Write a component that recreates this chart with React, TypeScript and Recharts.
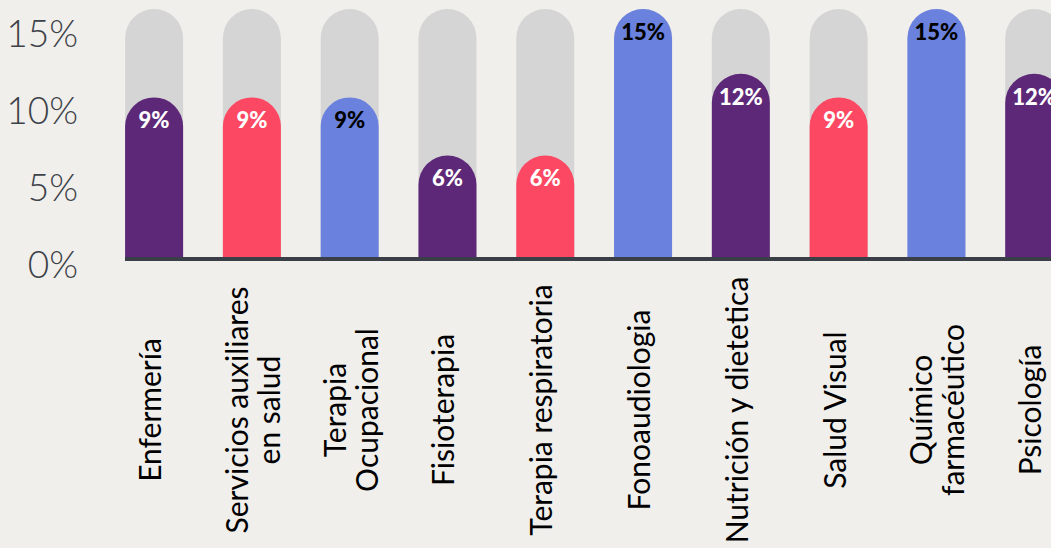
import { Bar, BarChart, Cell, LabelList, XAxis, YAxis } from 'recharts';

// categories, split into the lines shown under each bar
const categories = [
  ['Enfermería'],
  ['Servicios auxiliares', 'en salud'],
  ['Terapia', 'Ocupacional'],
  ['Fisioterapia'],
  ['Terapia respiratoria'],
  ['Fonoaudiologia'],
  ['Nutrición y dietetica'],
  ['Salud Visual'],
  ['Químico', 'farmacéutico'],
  ['Psicología'],
];
// printed labels on the bars
const shownPct = [9, 9, 9, 6, 6, 15, 12, 9, 15, 12];
// bar heights as read against the y axis
const barHeights = [10.36, 10.36, 10.36, 6.59, 6.59, 16.1, 11.9, 10.36, 16.1, 11.9];
const yTicks = [0, 5, 10, 15];

const PURPLE = '#5e2878';
const RED = '#fc4862';
const BLUE = '#6a82de';
const barColors = [PURPLE, RED, BLUE, PURPLE, RED, BLUE, PURPLE, RED, BLUE, PURPLE];
const labelColors = ['#fff', '#fff', '#000', '#fff', '#fff', '#000', '#fff', '#fff', '#000', '#fff'];

const FONT = 'Lato, "Open Sans", sans-serif';

const data = categories.map((lines, i) => ({
  name: lines.join(' '),
  lines,
  value: barHeights[i],
  label: `${shownPct[i]}%`,
}));

function CategoryTick({ x, y, index }: any) {
  const lines = categories[index] || [];
  const cy = y + 153;
  const offsets = lines.length === 1 ? [7] : [-4, 28];
  return (
    <g>
      {lines.map((line, i) => (
        <text
          key={i}
          transform={`translate(${x + offsets[i]},${cy}) rotate(-90)`}
          textAnchor="middle"
          fill="#000"
          fontFamily={FONT}
          fontSize={30}
        >
          {line}
        </text>
      ))}
    </g>
  );
}

function PctTick({ x, y, payload }: any) {
  return (
    <text x={x} y={y} dy={21} textAnchor="end" fill="#3d4148" fontFamily={FONT} fontWeight={300} fontSize={37}>
      {`${payload.value}%`}
    </text>
  );
}

function BarLabel({ x, y, width, index }: any) {
  return (
    <text
      x={x + width / 2}
      y={y + 31}
      textAnchor="middle"
      fill={labelColors[index]}
      fontFamily={FONT}
      fontWeight={900}
      fontSize={22}
    >
      {data[index].label}
    </text>
  );
}

export default function App() {
  return (
    <div
      style={{
        position: 'absolute',
        left: 0,
        top: 0,
        width: 1051,
        height: 548,
        overflow: 'hidden',
        background: '#f0efeb',
      }}
    >
      <BarChart width={1083} height={548} data={data} margin={{ top: 9, right: 0, bottom: 0, left: 0 }}>
        <YAxis
          width={125}
          domain={[0, 16.1]}
          ticks={yTicks}
          axisLine={false}
          tickLine={false}
          tickSize={0}
          tickMargin={47}
          tick={<PctTick />}
          allowDataOverflow
        />
        <XAxis
          dataKey="name"
          height={291}
          interval={0}
          padding={{ left: -19.9, right: 0 }}
          tickLine={false}
          tickSize={0}
          tickMargin={0}
          axisLine={{ stroke: '#3a3f47', strokeWidth: 4, transform: 'translate(0 2)' }}
          tick={<CategoryTick />}
        />
        <Bar
          dataKey="value"
          barSize={58}
          radius={[29, 29, 0, 0]}
          background={{ fill: '#d5d5d5', radius: [29, 29, 0, 0] } as any}
          isAnimationActive={false}
        >
          {data.map((_, i) => (
            <Cell key={i} fill={barColors[i]} />
          ))}
          <LabelList dataKey="label" content={<BarLabel />} />
        </Bar>
      </BarChart>
    </div>
  );
}
